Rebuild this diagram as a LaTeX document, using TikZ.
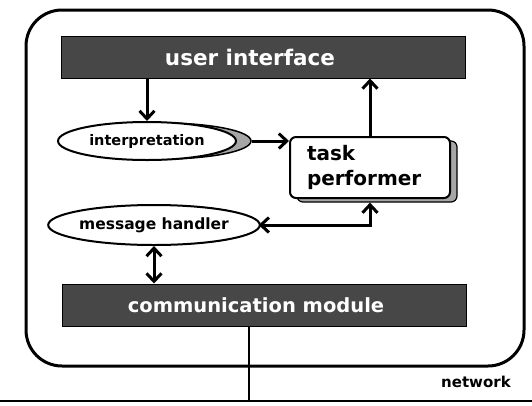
\documentclass[tikz,border=0pt]{standalone}
\usepackage{fontspec}
\setmainfont{DejaVu Sans}
\usetikzlibrary{shapes.geometric,arrows.meta}
\begin{document}
\begin{tikzpicture}[x=1pt,y=-1pt,
  bar/.style={draw=black, line width=1pt, fill=black!72, minimum width=404pt, minimum height=42pt, inner sep=0pt, text=white},
  ell/.style={ellipse, draw=black, line width=2pt, fill=white, minimum width=178pt, minimum height=38pt, inner sep=0pt, font=\fontsize{14.5}{16}\selectfont\bfseries},
  ellshadow/.style={ellipse, draw=black, line width=1.5pt, fill=black!35, minimum width=178pt, minimum height=36pt, inner sep=0pt},
  taskbox/.style={draw=black, line width=2pt, fill=white, rounded corners=6pt, minimum width=160pt, minimum height=61pt, inner xsep=17pt, text width=126pt, align=left, font=\fontsize{20}{25}\selectfont\bfseries},
  boxshadow/.style={draw=black, line width=1.2pt, fill=black!35, rounded corners=6pt, minimum width=160pt, minimum height=61pt},
  arr/.style={line width=3pt, -{Straight Barb[length=8pt,width=15pt]}},
  darr/.style={line width=3pt, {Straight Barb[length=8pt,width=15pt]}-{Straight Barb[length=8pt,width=15pt]}},
  host/.style={draw=black, line width=3pt, rounded corners=36pt, minimum width=498pt, minimum height=356pt},
]
\useasboundingbox (0,0) rectangle (532,405);
\node[host] (host) at (275,188) {};

\node[bar, font=\fontsize{21.5}{24}\selectfont\bfseries] (ui) at (263,57) {\hspace*{-26pt}user interface};
\node[bar, font=\fontsize{19.5}{22}\selectfont\bfseries] (comm) at (264,305) {\hspace*{-16pt}communication module};

\node[ellshadow] (interpsh) at (162,141) {};
\node[ell] (interp) at (147,141) {interpretation};

\node[ellshadow, minimum height=38pt] (msgsh) at (169,225) {};
\node[ell, minimum height=40pt, font=\fontsize{15.5}{17}\selectfont\bfseries] (msg) at (154,225) {message handler};

\node[boxshadow] (tasksh) at (377,171.5) {};
\node[taskbox] (task) at (370,167.5) {task\\performer};

\node[font=\fontsize{15}{17}\selectfont\bfseries] (netlabel) at (476,382) {network};

\coordinate (net) at (249,401);
\coordinate (netL) at (0,401);
\coordinate (netR) at (532,401);

\draw[arr] (interp.north |- ui.south) -- (interp.north);
\draw[arr] (interpsh.east) -- (interpsh.east -| task.west);
\draw[arr] (task.north) -- (task.north |- ui.south);
\draw[darr] (msgsh.east) -- (msgsh.east -| task.south) -- (tasksh.south -| task.south);
\draw[darr] (msg.south) -- (msg.south |- comm.north);
\draw[line width=1.5pt] (comm.south -| net) -- (net);
\draw[line width=2.5pt] (netL) -- (netR);
\end{tikzpicture}
\end{document}
